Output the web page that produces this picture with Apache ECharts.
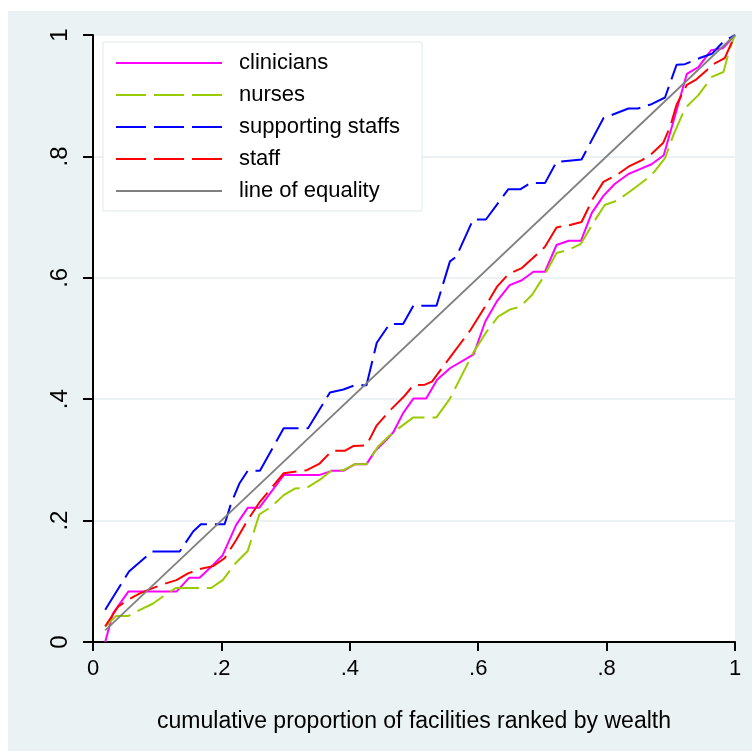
<!DOCTYPE html>
<html>
<head>
<meta charset="utf-8">
<script src="https://cdn.jsdelivr.net/npm/echarts@6/dist/echarts.min.js"></script>
<style>
  html, body { margin: 0; padding: 0; background: #ffffff; }
  #chart { position: absolute; left: 8px; top: 11px; width: 744px; height: 740px; }
</style>
</head>
<body>
<div id="chart"></div>
<script>
// ---- data ----
const seriesNames = ['clinicians', 'nurses', 'supporting staffs', 'staff', 'line of equality'];
const xTicks = [0, 0.2, 0.4, 0.6, 0.8, 1];
const yTicks = [0, 0.2, 0.4, 0.6, 0.8, 1];

const clinicians = [
  [0.019,0.000],[0.031,0.047],[0.055,0.083],[0.130,0.083],[0.150,0.106],[0.166,0.106],
  [0.187,0.127],[0.202,0.143],[0.223,0.193],[0.241,0.221],[0.259,0.221],[0.297,0.275],
  [0.352,0.275],[0.372,0.282],[0.390,0.282],[0.408,0.293],[0.426,0.293],[0.439,0.314],
  [0.457,0.333],[0.468,0.346],[0.483,0.377],[0.499,0.401],[0.519,0.401],[0.536,0.432],
  [0.556,0.451],[0.593,0.474],[0.611,0.528],[0.629,0.561],[0.649,0.588],[0.668,0.596],
  [0.686,0.610],[0.704,0.610],[0.722,0.654],[0.741,0.661],[0.760,0.661],[0.777,0.707],
  [0.795,0.735],[0.813,0.755],[0.834,0.771],[0.852,0.779],[0.870,0.787],[0.889,0.802],
  [0.906,0.865],[0.925,0.936],[0.943,0.947],[0.963,0.975],[0.981,0.978],[1.000,1.000]
];

const nurses = [
  [0.019,0.025],[0.036,0.043],[0.055,0.043],[0.073,0.053],[0.093,0.063],[0.109,0.075],
  [0.129,0.089],[0.184,0.089],[0.202,0.102],[0.223,0.131],[0.241,0.150],[0.259,0.210],
  [0.278,0.223],[0.297,0.242],[0.315,0.253],[0.333,0.254],[0.353,0.267],[0.372,0.283],
  [0.390,0.283],[0.408,0.293],[0.426,0.293],[0.444,0.322],[0.460,0.338],[0.476,0.352],
  [0.499,0.370],[0.535,0.370],[0.556,0.401],[0.593,0.478],[0.613,0.511],[0.631,0.536],
  [0.650,0.548],[0.665,0.552],[0.684,0.572],[0.702,0.602],[0.722,0.641],[0.741,0.646],
  [0.760,0.656],[0.779,0.690],[0.797,0.720],[0.816,0.727],[0.831,0.738],[0.850,0.753],
  [0.870,0.769],[0.891,0.797],[0.904,0.835],[0.922,0.879],[0.943,0.901],[0.964,0.931],
  [0.982,0.939],[0.992,0.978],[1.000,1.000]
];

const supportingStaffs = [
  [0.019,0.053],[0.056,0.116],[0.092,0.149],[0.135,0.149],[0.156,0.182],[0.168,0.194],
  [0.205,0.194],[0.215,0.228],[0.228,0.261],[0.241,0.282],[0.260,0.282],[0.297,0.352],
  [0.335,0.352],[0.369,0.411],[0.390,0.416],[0.408,0.423],[0.426,0.423],[0.442,0.493],
  [0.462,0.524],[0.483,0.524],[0.499,0.554],[0.535,0.554],[0.556,0.627],[0.566,0.635],
  [0.592,0.696],[0.612,0.696],[0.647,0.746],[0.666,0.746],[0.681,0.756],[0.704,0.756],
  [0.722,0.791],[0.761,0.795],[0.795,0.863],[0.834,0.879],[0.849,0.879],[0.870,0.886],
  [0.891,0.897],[0.909,0.951],[0.922,0.952],[0.945,0.962],[0.964,0.969],[0.982,0.989],
  [1.000,1.000]
];

const staff = [
  [0.019,0.026],[0.039,0.058],[0.055,0.070],[0.073,0.080],[0.091,0.088],[0.109,0.095],
  [0.130,0.102],[0.148,0.113],[0.166,0.120],[0.187,0.125],[0.205,0.138],[0.223,0.168],
  [0.241,0.201],[0.260,0.231],[0.297,0.278],[0.333,0.283],[0.353,0.294],[0.372,0.315],
  [0.392,0.315],[0.406,0.323],[0.426,0.324],[0.442,0.357],[0.463,0.382],[0.484,0.404],
  [0.499,0.423],[0.517,0.424],[0.528,0.429],[0.559,0.473],[0.588,0.514],[0.614,0.558],
  [0.629,0.585],[0.647,0.606],[0.668,0.616],[0.704,0.651],[0.722,0.683],[0.743,0.687],
  [0.761,0.692],[0.779,0.731],[0.795,0.758],[0.818,0.771],[0.834,0.783],[0.855,0.794],
  [0.868,0.802],[0.888,0.822],[0.899,0.849],[0.909,0.885],[0.925,0.918],[0.940,0.927],
  [0.956,0.942],[0.966,0.952],[0.984,0.962],[1.000,1.000]
];

const lineOfEquality = [[0.019,0.019],[1.000,1.000]];

// ---- chart ----
const FONT = '"Liberation Sans", Arial, Helvetica, sans-serif';
function fmt(v) {
  const r = Math.round(v * 10) / 10;
  return String(r).replace(/^0\./, '.');
}

const chart = echarts.init(document.getElementById('chart'), null, { renderer: 'canvas' });

const dash = [30, 8];
function lineSeries(name, data, color, type, width) {
  return {
    name: name,
    type: 'line',
    data: data,
    symbol: 'none',
    showSymbol: false,
    smooth: false,
    animation: false,
    silent: true,
    lineStyle: { color: color, width: width, type: type, cap: 'butt' },
    itemStyle: { color: color }
  };
}

chart.setOption({
  backgroundColor: '#eaf2f3',
  animation: false,
  textStyle: { fontFamily: FONT },
  grid: {
    left: 85, top: 24, right: 17, bottom: 109,
    show: true, backgroundColor: '#ffffff', borderWidth: 0,
    containLabel: false, outerBoundsMode: 'none'
  },
  legend: {
    orient: 'vertical',
    left: 95, top: 31,
    data: seriesNames,
    backgroundColor: '#ffffff',
    borderColor: '#e1e9eb',
    borderWidth: 1,
    borderRadius: 0,
    padding: [10, 22, 9, 12],
    itemWidth: 106,
    itemHeight: 14,
    itemGap: 10,
    selectedMode: false,
    itemStyle: { opacity: 0 },
    textStyle: { fontSize: 22, color: '#000000', fontFamily: FONT, lineHeight: 22, padding: [0, 0, 0, 12] }
  },
  xAxis: {
    type: 'value',
    min: 0, max: 1, interval: 0.2,
    name: 'cumulative proportion of facilities ranked by wealth',
    nameLocation: 'middle',
    nameGap: 68,
    nameTextStyle: { fontSize: 23, color: '#000000', fontFamily: FONT },
    axisLine: { show: true, onZero: false, lineStyle: { color: '#000000', width: 2 } },
    axisTick: { show: true, inside: false, length: 9, lineStyle: { color: '#000000', width: 2 } },
    axisLabel: {
      show: true, margin: 16, fontSize: 22, color: '#000000', fontFamily: FONT,
      formatter: function (v) { return fmt(v); },
      showMinLabel: true, showMaxLabel: true
    },
    splitLine: { show: false }
  },
  yAxis: {
    type: 'value',
    min: 0, max: 1, interval: 0.2,
    axisLine: { show: true, onZero: false, lineStyle: { color: '#000000', width: 2 } },
    axisTick: { show: true, inside: false, length: 10, lineStyle: { color: '#000000', width: 2 } },
    axisLabel: {
      show: true, margin: 21, fontSize: 24, color: '#000000', fontFamily: FONT, rotate: 90,
      formatter: function (v) { return fmt(v); },
      showMinLabel: true, showMaxLabel: true
    },
    splitLine: { show: true, lineStyle: { color: '#e6eef0', width: 1.5 } }
  },
  series: [
    lineSeries(seriesNames[0], clinicians, '#ff00ff', 'solid', 2),
    lineSeries(seriesNames[1], nurses, '#99cc00', dash, 2),
    lineSeries(seriesNames[2], supportingStaffs, '#0000ff', dash, 2),
    lineSeries(seriesNames[3], staff, '#ff0000', dash, 2),
    lineSeries(seriesNames[4], lineOfEquality, '#808080', 'solid', 1.8)
  ]
});
</script>
</body>
</html>
